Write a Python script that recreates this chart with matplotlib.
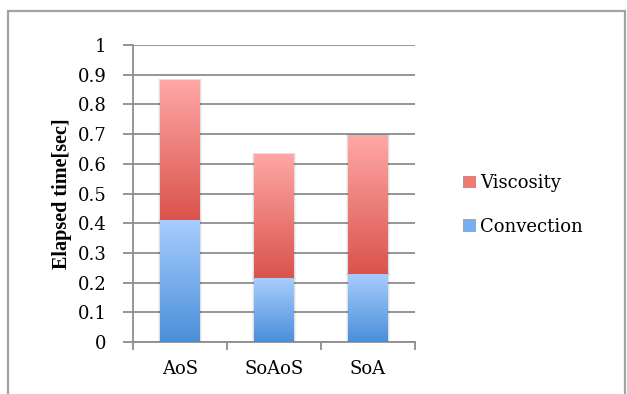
import numpy as np
import matplotlib.pyplot as plt
from matplotlib.patches import Patch, Rectangle
from matplotlib.colors import LinearSegmentedColormap

# elapsed time per data layout [sec]
layouts = ['AoS', 'SoAoS', 'SoA']
convection = [0.41, 0.215, 0.23]
viscosity = [0.472, 0.418, 0.467]

y_ticks = [0, 0.1, 0.2, 0.3, 0.4, 0.5, 0.6, 0.7, 0.8, 0.9, 1]
y_tick_labels = ['0', '0.1', '0.2', '0.3', '0.4', '0.5', '0.6', '0.7', '0.8', '0.9', '1']

plt.rcParams['font.family'] = ['DejaVu Serif']

# (bottom colour, top colour) for each series
blue_grad = LinearSegmentedColormap.from_list('conv', ['#4a8fd9', '#a8cdfe'])
red_grad = LinearSegmentedColormap.from_list('visc', ['#da534c', '#ffa8a6'])

grid_col = '#8e8e8e'
fs = 13


def gradient_fill(ax, bars, cmap):
    # paint each bar with a vertical gradient, clipped to the bar outline
    grad = np.linspace(0, 1, 256).reshape(-1, 1)
    for bar in bars:
        x0, y0 = bar.get_x(), bar.get_y()
        w, h = bar.get_width(), bar.get_height()
        # soft drop shadow
        for k, a in [(0.03, 0.05), (0.015, 0.07)]:
            sh = Rectangle((x0 - k, y0 - 0.004), w + 2 * k, h + 0.006,
                           facecolor='#000000', alpha=a, edgecolor='none', zorder=2)
            ax.add_patch(sh)
        im = ax.imshow(grad, cmap=cmap, origin='lower', aspect='auto',
                       extent=[x0, x0 + w, y0, y0 + h], zorder=3,
                       interpolation='bilinear')
        im.set_clip_path(bar)
        bar.set_facecolor('none')


fig = plt.figure(figsize=(6.27, 3.94), dpi=100)
ax = fig.add_axes([133 / 627, 1 - 342 / 394, 282 / 627, 297 / 394])

x = np.arange(len(layouts))
width = 0.415
b1 = ax.bar(x, convection, width, color='none', edgecolor='none', zorder=3)
b2 = ax.bar(x, viscosity, width, bottom=convection, color='none',
            edgecolor='none', zorder=3)
gradient_fill(ax, b1, blue_grad)
gradient_fill(ax, b2, red_grad)

ax.set_xlim(-0.5, len(layouts) - 0.5)
ax.set_ylim(0, 1)

ax.set_yticks(y_ticks)
ax.set_yticklabels(y_tick_labels)
ax.yaxis.grid(True, color=grid_col, linewidth=1.3)
ax.set_axisbelow(True)

ax.set_xticks(x)
ax.set_xticklabels(layouts)
ax.set_xticks(np.arange(len(layouts) + 1) - 0.5, minor=True)
ax.tick_params(axis='x', which='major', length=0, pad=13, labelsize=fs)
ax.tick_params(axis='x', which='minor', length=6, width=1.3, color=grid_col,
               direction='out')
ax.tick_params(axis='y', length=7, width=1.3, color=grid_col, pad=12,
               labelsize=fs)

for side in ['top', 'right']:
    ax.spines[side].set_visible(False)
for side in ['left', 'bottom']:
    ax.spines[side].set_color(grid_col)
    ax.spines[side].set_linewidth(1.3)

ax.set_ylabel('Elapsed time[sec]', fontsize=14.5, fontweight='bold',
              family=['Liberation Serif', 'DejaVu Serif'], labelpad=4)

handles = [Patch(facecolor='#ec7b76', edgecolor='none'),
           Patch(facecolor='#79aeef', edgecolor='none')]
fig.legend(handles, ['Viscosity', 'Convection'], loc='center left',
           bbox_to_anchor=(463 / 627, 1 - 205 / 394), frameon=False,
           fontsize=fs, handlelength=0.7, handleheight=0.7,
           handletextpad=0.25, labelspacing=1.4, borderpad=0, borderaxespad=0)

# outer chart frame
frame = Rectangle((8 / 627, -0.1), 617 / 627, 1.1 - 11 / 394,
                  transform=fig.transFigure, fill=False,
                  edgecolor='#a3a3a3', linewidth=1.6)
fig.patches.append(frame)

fig.savefig('out.png', dpi=100)
